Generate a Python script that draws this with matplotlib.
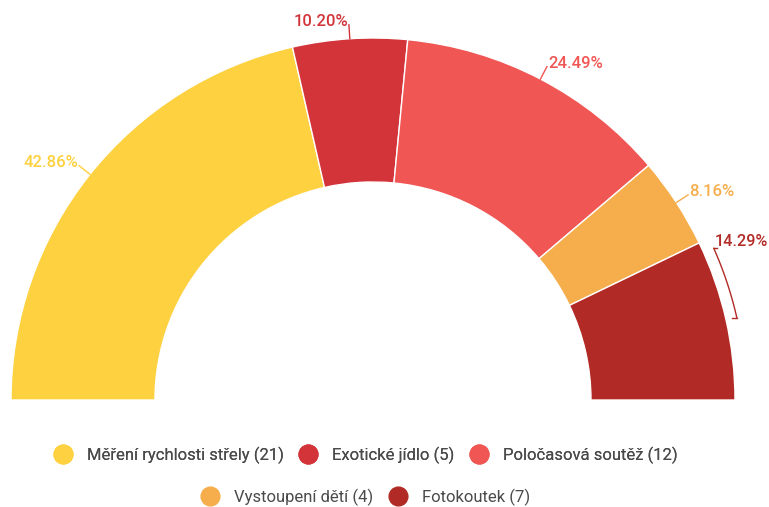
import numpy as np
import matplotlib
matplotlib.use("Agg")
import matplotlib.pyplot as plt
from matplotlib.lines import Line2D

plt.rcParams["font.family"] = ["Roboto", "DejaVu Sans"]

labels = ["Měření rychlosti střely", "Exotické jídlo", "Poločasová soutěž",
          "Vystoupení dětí", "Fotokoutek"]
counts = [21, 5, 12, 4, 7]
colors = ["#FDD13F", "#D2343A", "#F05653", "#F5AE4B", "#B22A25"]

W, H = 769, 507
CX, CY = 373, H - 400          # centre of the half donut (y measured upwards)
R, RING = 362, 144
FS = 12

fig = plt.figure(figsize=(W / 100, H / 100), dpi=100)
ax = fig.add_axes([0, 0, 1, 1])

total = sum(counts)
wedges, _ = ax.pie(counts + [total], colors=colors + ["none"], startangle=180,
                   counterclock=False, radius=R, center=(CX, CY),
                   wedgeprops=dict(width=RING, edgecolor="white", linewidth=1))
wedges[-1].set_visible(False)
ax.set_xlim(0, W); ax.set_ylim(0, H); ax.set_aspect("auto"); ax.axis("off")

pct = [c / total * 100 for c in counts]
cum = np.cumsum([0] + pct)
for i, p in enumerate(pct):
    txt = f"{p:.2f}%"
    if i == len(pct) - 1:
        # bracket style label for the last slice
        a0, a1 = np.deg2rad(12.7), np.deg2rad(24.0)
        t = np.linspace(a0, a1, 40)
        rb = R + 11
        ax.plot(CX + rb * np.cos(t), CY + rb * np.sin(t), c=colors[i], lw=1)
        x1, y1 = CX + rb * np.cos(a1), CY + rb * np.sin(a1)
        x0, y0 = CX + rb * np.cos(a0), CY + rb * np.sin(a0)
        ax.plot([x1, x1 + 3], [y1, y1], c=colors[i], lw=1)
        ax.plot([x0, x0 - 5], [y0, y0], c=colors[i], lw=1)
        ax.text(x1 + 1, y1 + 7, txt, color=colors[i], fontsize=11.6, weight="medium",
                ha="left", va="center")
        continue
    mid = np.deg2rad(180 - (cum[i] + p / 2) * 1.8)
    xa, ya = CX + R * np.cos(mid), CY + R * np.sin(mid)
    xb, yb = CX + (R + 14) * np.cos(mid), CY + (R + 14) * np.sin(mid)
    ax.plot([xa, xb], [ya, yb], c=colors[i], lw=1)
    ha = "right" if np.cos(mid) < 0 else "left"
    dx = -1 if ha == "right" else 1
    ax.text(xb + dx, yb + 3, txt, color=colors[i], fontsize=FS, weight="medium",
            ha=ha, va="center")

handles = [Line2D([], [], ls="", marker="o", ms=13.5, mfc=c, mec=c) for c in colors]
names = [f"{n} ({c})" for n, c in zip(labels, counts)]
kw = dict(frameon=False, fontsize=FS, handletextpad=0.95, columnspacing=0.95,
          labelcolor="#4a4a4a", handlelength=1.0, loc="center")
leg1 = fig.legend(handles[:3], names[:3], ncol=3, bbox_to_anchor=(366 / W, 1 - 455 / H), **kw)
fig.add_artist(leg1)
fig.legend(handles[3:], names[3:], ncol=2, bbox_to_anchor=(366 / W, 1 - 497 / H), **kw)

fig.savefig("out.png", dpi=100)
